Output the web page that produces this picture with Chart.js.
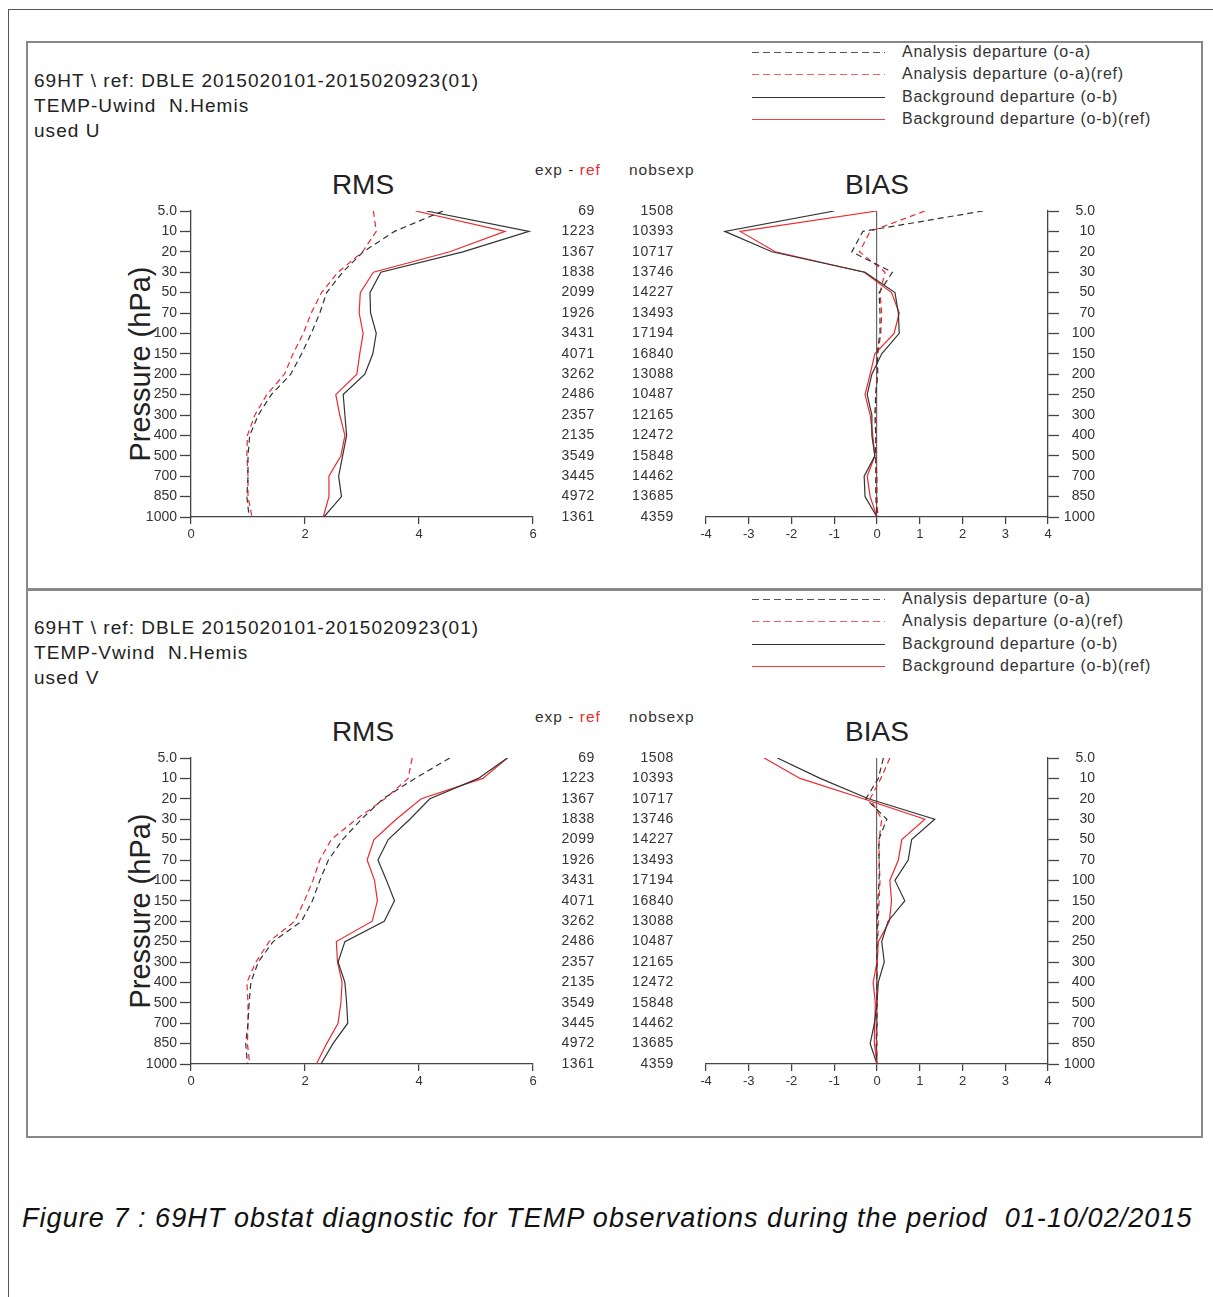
<!DOCTYPE html>
<html>
<head>
<meta charset="utf-8">
<script src="https://cdn.jsdelivr.net/npm/chart.js@4.4.0/dist/chart.umd.min.js"></script>
<style>
  body { margin: 0; background: #fff; font-family: "Liberation Sans", Arial, sans-serif; color: #333; }
  #page { position: relative; width: 1213px; height: 1297px; overflow: hidden; background: #fff; }
  .abs { position: absolute; white-space: nowrap; }
  .frame { position: absolute; left: 8px; top: 9px; width: 1300px; height: 1400px; border-left: 1.5px solid #555; border-top: 1.5px solid #555; }
  .panel { position: absolute; left: 26px; width: 1173px; height: 546px; border: 2px solid #888; }
  .head { left: 34px; font-size: 19px; line-height: 25px; color: #222; letter-spacing: 1.05px; }
  .leg { left: 902px; font-size: 16px; line-height: 20px; color: #333; letter-spacing: 0.75px; }
  .big { font-size: 28px; line-height: 30px; color: #222; transform: translateX(-50%); }
  .colhead { font-size: 15.5px; line-height: 18px; color: #333; letter-spacing: 1px; }
  .ylab { font-size: 29px; line-height: 32px; color: #222; transform: translate(-50%, -50%) rotate(-90deg); }
  canvas { position: absolute; }
  .caption { left: 22px; top: 1203px; font-size: 27px; font-style: italic; color: #111; letter-spacing: 1.05px; }
</style>
</head>
<body>
<div id="page">
  <div class="frame"></div>
  <div class="abs caption">Figure 7 : 69HT obstat diagnostic for TEMP observations during the period&nbsp; 01-10/02/2015</div>
</div>
<script>
const levels = ["5.0", "10", "20", "30", "50", "70", "100", "150", "200", "250", "300", "400", "500", "700", "850", "1000"];
const expMinusRef = [69, 1223, 1367, 1838, 2099, 1926, 3431, 4071, 3262, 2486, 2357, 2135, 3549, 3445, 4972, 1361];
const nobsExp = [1508, 10393, 10717, 13746, 14227, 13493, 17194, 16840, 13088, 10487, 12165, 12472, 15848, 14462, 13685, 4359];
const legendLabels = ["Analysis departure (o-a)", "Analysis departure (o-a)(ref)", "Background departure (o-b)", "Background departure (o-b)(ref)"];

// U wind, N.Hemis
const uRmsAn = [4.42, 3.57, 3.02, 2.66, 2.38, 2.26, 2.11, 1.94, 1.75, 1.41, 1.18, 1.03, 1.00, 1.00, 0.98, 1.02];
const uRmsAnRef = [3.20, 3.25, 3.01, 2.58, 2.29, 2.11, 1.97, 1.79, 1.64, 1.33, 1.12, 0.99, 0.98, 1.00, 1.00, 1.07];
const uRmsBg = [4.13, 5.93, 4.77, 3.33, 3.14, 3.15, 3.25, 3.19, 3.05, 2.67, 2.70, 2.73, 2.66, 2.59, 2.64, 2.33];
const uRmsBgRef = [3.94, 5.51, 4.54, 3.20, 2.97, 2.95, 3.02, 2.96, 2.91, 2.54, 2.61, 2.70, 2.63, 2.42, 2.42, 2.32];
const uBiasAn = [2.48, -0.33, -0.59, 0.36, 0.05, 0.07, 0.07, 0.00, 0.02, -0.03, -0.05, -0.03, -0.03, -0.03, -0.03, 0.00];
const uBiasAnRef = [1.12, -0.16, -0.41, 0.19, 0.07, 0.11, 0.09, 0.02, 0.00, -0.03, -0.03, -0.02, -0.03, 0.00, 0.00, 0.02];
const uBiasBg = [-1.00, -3.56, -2.46, -0.28, 0.42, 0.50, 0.52, 0.11, -0.12, -0.23, -0.12, -0.12, -0.05, -0.30, -0.28, 0.00];
const uBiasBgRef = [0.00, -3.20, -2.38, -0.30, 0.34, 0.52, 0.40, -0.05, -0.16, -0.28, -0.16, -0.10, -0.05, -0.23, -0.16, 0.00];

// V wind, N.Hemis
const vRmsAn = [4.54, 3.93, 3.37, 2.99, 2.66, 2.41, 2.26, 2.13, 1.94, 1.44, 1.18, 1.05, 1.02, 1.00, 0.96, 0.99];
const vRmsAnRef = [3.88, 3.81, 3.40, 2.90, 2.46, 2.26, 2.14, 1.99, 1.82, 1.37, 1.14, 0.98, 1.00, 1.00, 0.99, 1.03];
const vRmsBg = [5.55, 5.04, 4.19, 3.84, 3.46, 3.28, 3.43, 3.57, 3.39, 2.70, 2.58, 2.70, 2.73, 2.75, 2.49, 2.28];
const vRmsBgRef = [5.55, 5.12, 4.04, 3.60, 3.21, 3.09, 3.22, 3.27, 3.18, 2.55, 2.57, 2.65, 2.63, 2.58, 2.38, 2.20];
const vBiasAn = [0.15, 0.03, -0.26, 0.23, 0.04, 0.05, 0.05, 0.02, 0.01, 0.00, 0.00, 0.00, 0.00, 0.00, -0.02, 0.00];
const vBiasAnRef = [0.30, 0.09, -0.16, 0.11, 0.05, 0.05, 0.07, 0.05, 0.03, 0.02, 0.01, 0.00, 0.00, 0.00, 0.00, 0.00];
const vBiasBg = [-2.33, -1.33, -0.20, 1.35, 0.81, 0.73, 0.42, 0.65, 0.26, 0.11, 0.17, 0.03, 0.00, -0.06, -0.16, 0.00];
const vBiasBgRef = [-2.64, -1.80, -0.32, 1.12, 0.58, 0.50, 0.30, 0.34, 0.29, 0.03, 0.00, -0.09, -0.04, -0.05, -0.06, 0.00];

const BLACK = "#333333";
const RED = "#ec2a2f";
const AXIS = "#444444";
const FONT = "'Liberation Sans', Arial, sans-serif";

const page = document.getElementById("page");

function el(tag, cls, style, text) {
  const node = document.createElement(tag);
  if (cls) node.className = cls;
  Object.assign(node.style, style || {});
  if (text !== undefined) node.textContent = text;
  page.appendChild(node);
  return node;
}

function profile(values, color, dashed) {
  return {
    data: values.map((v, i) => ({ x: v, y: i })),
    borderColor: color,
    borderWidth: 1.2,
    borderDash: dashed ? [6, 4] : [],
    pointRadius: 0,
    showLine: true,
    fill: false,
  };
}

const columnsPlugin = {
  id: "obsColumns",
  afterDraw(chart) {
    const ctx = chart.ctx;
    const y = chart.scales.y;
    const right = chart.chartArea.right;
    ctx.save();
    ctx.fillStyle = "#333";
    ctx.font = "14px " + FONT;
    ctx.letterSpacing = "0.6px";
    ctx.textAlign = "right";
    ctx.textBaseline = "middle";
    levels.forEach((lev, i) => {
      const py = y.getPixelForValue(i);
      ctx.fillText(String(expMinusRef[i]), right + 62, py);
      ctx.fillText(String(nobsExp[i]), right + 141, py);
    });
    ctx.restore();
  },
};

function levelAxis(position, width, crossAlign) {
  return {
    type: "linear",
    position,
    reverse: true,
    min: 0,
    max: levels.length - 1,
    afterFit(scale) { scale.width = width; },
    afterBuildTicks(scale) { scale.ticks = levels.map((l, i) => ({ value: i })); },
    ticks: {
      callback: (v) => levels[v],
      color: "#333",
      font: { family: FONT, size: 14 },
      padding: 3,
      crossAlign,
    },
    grid: { drawOnChartArea: false, tickLength: 11, tickColor: AXIS, tickWidth: 1.3 },
    border: { color: AXIS, width: 1.3 },
  };
}

function makeChart(canvas, datasets, xMin, xMax, step, yAxis, padding, plugins, zeroLine) {
  return new Chart(canvas, {
    type: "scatter",
    data: { datasets },
    options: {
      responsive: false,
      animation: false,
      events: [],
      layout: { padding },
      plugins: { legend: { display: false }, tooltip: { enabled: false } },
      scales: {
        x: {
          type: "linear",
          min: xMin,
          max: xMax,
          afterFit(scale) { scale.height = 30; },
          ticks: { stepSize: step, color: "#333", font: { family: FONT, size: 13 }, padding: 3, maxRotation: 0 },
          grid: {
            drawOnChartArea: zeroLine,
            color: (c) => (c.tick && c.tick.value === 0 ? "#666" : "rgba(0,0,0,0)"),
            lineWidth: 1.2,
            tickLength: 7,
            tickColor: AXIS,
            tickWidth: 1.3,
          },
          border: { color: AXIS, width: 1.3 },
        },
        y: yAxis,
      },
    },
    plugins,
  });
}

function buildPanel(oy, wind, used, rms, bias) {
  el("div", "panel", { top: 41 + oy + "px" });

  el("div", "abs head", { top: 68 + oy + "px" }, "69HT \\ ref: DBLE 2015020101-2015020923(01)");
  el("div", "abs head", { top: 93 + oy + "px" }, "TEMP-" + wind + "  N.Hemis").style.whiteSpace = "pre";
  el("div", "abs head", { top: 118 + oy + "px" }, used);

  // legend
  const legY = [52, 74, 97, 119];
  const legStyles = [
    { c: "#555", d: "7 4" },
    { c: "#f26262", d: "7 4" },
    { c: "#333", d: "" },
    { c: "#f24040", d: "" },
  ];
  const svgNS = "http://www.w3.org/2000/svg";
  const svg = document.createElementNS(svgNS, "svg");
  svg.setAttribute("width", "140");
  svg.setAttribute("height", "90");
  Object.assign(svg.style, { position: "absolute", left: "750px", top: 40 + oy + "px" });
  legY.forEach((ly, i) => {
    const line = document.createElementNS(svgNS, "line");
    line.setAttribute("x1", "2");
    line.setAttribute("x2", "135");
    line.setAttribute("y1", String(ly - 40 + 0.5));
    line.setAttribute("y2", String(ly - 40 + 0.5));
    line.setAttribute("stroke", legStyles[i].c);
    line.setAttribute("stroke-width", "1");
    if (legStyles[i].d) line.setAttribute("stroke-dasharray", legStyles[i].d);
    svg.appendChild(line);
    el("div", "abs leg", { top: ly - 10 + oy + "px" }, legendLabels[i]);
  });
  page.appendChild(svg);

  el("div", "abs big", { left: "363px", top: 170 + oy + "px" }, "RMS");
  el("div", "abs big", { left: "877px", top: 170 + oy + "px" }, "BIAS");
  const hdr = el("div", "abs colhead", { left: "535px", top: 161 + oy + "px" });
  hdr.innerHTML = 'exp - <span style="color:' + RED + '">ref</span>';
  el("div", "abs colhead", { left: "629px", top: 161 + oy + "px" }, "nobsexp");
  el("div", "abs ylab", { left: "140px", top: 364 + oy + "px" }, "Pressure (hPa)");

  const rmsCanvas = el("canvas", "", { left: "120px", top: 199 + oy + "px" });
  rmsCanvas.width = 593;
  rmsCanvas.height = 348;
  makeChart(
    rmsCanvas,
    [profile(rms[0], BLACK, true), profile(rms[1], RED, true), profile(rms[2], BLACK, false), profile(rms[3], RED, false)],
    0, 6, 2,
    levelAxis("left", 71, "near"),
    { top: 12, left: 0, right: 180, bottom: 0 },
    [columnsPlugin],
    false
  );

  const biasCanvas = el("canvas", "", { left: "696px", top: 199 + oy + "px" });
  biasCanvas.width = 404;
  biasCanvas.height = 348;
  makeChart(
    biasCanvas,
    [profile(bias[0], BLACK, true), profile(bias[1], RED, true), profile(bias[2], BLACK, false), profile(bias[3], RED, false)],
    -4, 4, 1,
    levelAxis("right", 47, "far"),
    { top: 12, left: 10, right: 5, bottom: 0 },
    [],
    true
  );
}

buildPanel(0, "Uwind", "used U", [uRmsAn, uRmsAnRef, uRmsBg, uRmsBgRef], [uBiasAn, uBiasAnRef, uBiasBg, uBiasBgRef]);
buildPanel(547, "Vwind", "used V", [vRmsAn, vRmsAnRef, vRmsBg, vRmsBgRef], [vBiasAn, vBiasAnRef, vBiasBg, vBiasBgRef]);
</script>
</body>
</html>
